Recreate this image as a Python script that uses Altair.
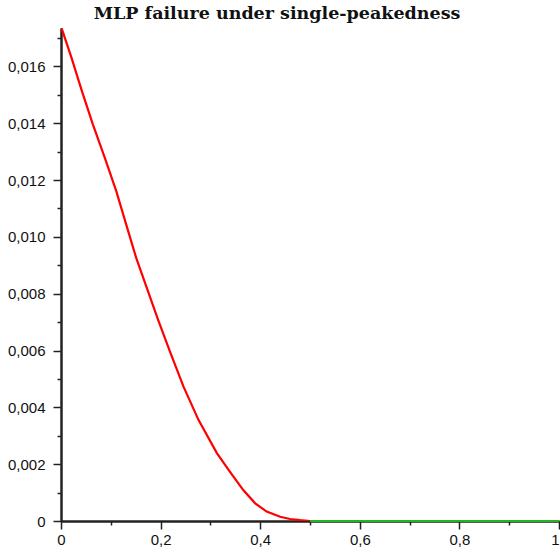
import altair as alt
import pandas as pd

# Failure probability of MLP along the parameter range
x_fail = [0.0, 0.002, 0.021, 0.042, 0.064, 0.088, 0.111, 0.131, 0.151,
          0.195, 0.220, 0.246, 0.276, 0.313, 0.339, 0.366, 0.390, 0.413, 0.440,
          0.460, 0.480, 0.5]
y_fail = [0.01734, 0.01730, 0.01631, 0.01513, 0.01396, 0.01278, 0.01161, 0.01043,
          0.00926, 0.00708, 0.00591, 0.00473, 0.00356, 0.00239,
          0.00174, 0.00109, 0.00062, 0.00033, 0.00015, 0.00007, 0.00003, 0.0]

# Second branch: zero failure over the upper half
x_zero = [0.5, 1.0]
y_zero = [0.0, 0.0]

x_major = [0, 0.2, 0.4, 0.6, 0.8, 1.0]
x_minor = [0.1, 0.3, 0.5, 0.7, 0.9]
y_major = [0, 0.002, 0.004, 0.006, 0.008, 0.010, 0.012, 0.014, 0.016]
y_minor = [0.001, 0.003, 0.005, 0.007, 0.009, 0.011, 0.013, 0.015, 0.017]

fail_df = pd.DataFrame({"x": x_fail, "y": y_fail})
zero_df = pd.DataFrame({"x": x_zero, "y": y_zero})

X_DOMAIN = [0, 1]
Y_DOMAIN = [0, 0.01735]

label_font = "Liberation Sans"
axis_col = "#222222"

x_labels = "replace(format(datum.value, '~g'), '.', ',')"
y_labels = "datum.value == 0 ? '0' : replace(format(datum.value, '.3f'), '.', ',')"

major_x = alt.Axis(values=x_major, title=None, grid=False, labelExpr=x_labels,
                   tickSize=8, tickWidth=1.5, tickColor=axis_col,
                   domainColor=axis_col, domainWidth=2, orient="bottom",
                   labelFont=label_font, labelFontSize=15, labelColor="#111111",
                   labelPadding=3, labelOverlap=False, labelFlush=False,
                   labelAlign={"condition": {"test": "datum.value == 1", "value": "right"},
                               "value": "center"})
major_y = alt.Axis(values=y_major, title=None, grid=False, labelExpr=y_labels,
                   tickSize=8, tickWidth=1.5, tickColor=axis_col,
                   domainColor=axis_col, domainWidth=2, orient="left",
                   labelFont=label_font, labelFontSize=15, labelColor="#111111",
                   labelPadding=8, labelOverlap=False, labelFlush=False)
minor_x = alt.Axis(values=x_minor, title=None, grid=False, labels=False,
                   tickSize=4, tickWidth=1.5, tickColor=axis_col,
                   domainColor=axis_col, domainWidth=2, orient="bottom")
minor_y = alt.Axis(values=y_minor, title=None, grid=False, labels=False,
                   tickSize=4, tickWidth=1.5, tickColor=axis_col,
                   domainColor=axis_col, domainWidth=2, orient="left")

fail_line = alt.Chart(fail_df).mark_line(color="#ff0000", strokeWidth=2.2, clip=True).encode(
    x=alt.X("x:Q", scale=alt.Scale(domain=X_DOMAIN, nice=False, zero=False), axis=major_x),
    y=alt.Y("y:Q", scale=alt.Scale(domain=Y_DOMAIN, nice=False, zero=False), axis=major_y),
)

zero_line = alt.Chart(zero_df).mark_line(color="#22b522", strokeWidth=2.2).encode(
    x=alt.X("x:Q", scale=alt.Scale(domain=X_DOMAIN, nice=False, zero=False), axis=minor_x),
    y=alt.Y("y:Q", scale=alt.Scale(domain=Y_DOMAIN, nice=False, zero=False), axis=minor_y),
)

chart = (
    alt.layer(fail_line, zero_line)
    .resolve_axis(x="independent", y="independent")
    .properties(
        width=498,
        height=493,
        autosize=alt.AutoSizeParams(type="none"),
        padding={"left": 61, "top": 28, "right": 1, "bottom": 34},
        background="white",
        title=alt.Title("MLP failure under single-peakedness",
                        font="DejaVu Serif", fontSize=17.5, fontWeight="bold",
                        color="#111111", anchor="middle", dx=-33, offset=6),
    )
    .configure_view(stroke=None)
)

chart.save("out.html", embed_options={"renderer": "svg", "actions": False})
